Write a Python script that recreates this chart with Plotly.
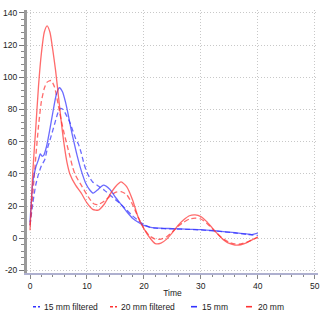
import plotly.graph_objects as go

# 20 mm (raw)
t_20 = [0, 0.5, 1, 1.5, 2, 2.5, 3, 3.5, 4, 4.5, 5, 5.5, 6, 6.5, 7, 8, 9, 10, 11, 12,
        13, 14, 15, 16, 17, 18, 19, 20, 21, 22, 23, 24, 25, 26, 27, 28, 29, 30, 31,
        32, 33, 34, 35, 36, 37, 38, 39, 40]
v_20 = [5, 42, 68, 95, 115, 128, 132, 128, 117, 104, 88, 72, 58, 47, 40, 33, 28, 22,
        18, 17.5, 21, 27, 32, 35, 32, 24, 13, 6, 0.5, -3.3, -3.0, -0.5, 3.5, 8, 11.5,
        14, 14.5, 13.5, 10.5, 6.5, 2.5, -1, -3.2, -4.2, -4, -2.8, -1, 1]

# 20 mm filtered
t_20f = [0, 0.5, 1, 1.5, 2, 2.5, 3, 3.7, 4.3, 5, 5.5, 6, 6.5, 7, 7.5, 8, 9, 10, 11,
         11.5, 12, 13, 14, 15, 16, 17, 18, 19, 20, 21, 22, 23, 24, 25, 26, 27, 28, 29,
         30, 31, 32, 33, 34, 35, 36, 37, 38, 39, 40]
v_20f = [8, 28, 50, 70, 85, 93, 97, 98, 94, 82, 73, 65, 58, 51, 44, 39, 33, 27, 22,
         21, 21, 23, 26, 28.5, 29, 27, 21, 13, 6, 1.5, -0.5, -0.5, 1, 4, 7.5, 10, 12,
         12.5, 12, 9.5, 6, 2.5, -0.5, -2.5, -3.5, -3.5, -2.5, -1, 0.5]

# 15 mm (raw)
t_15 = [0, 0.5, 1, 1.5, 1.8, 2.1, 2.4, 2.9, 3.5, 4.1, 4.6, 5.15, 5.7, 6.2, 6.7, 7.2,
        7.7, 8.3, 9, 9.8, 10.5, 11.1, 12, 12.9, 14, 15, 16, 17, 18, 19, 20, 21, 22,
        25, 28, 30, 33, 36, 38, 39, 40]
v_15 = [10, 35, 44, 49, 52.5, 51, 51.5, 57, 68, 80, 89, 93.5, 91, 85, 77, 68, 60, 51,
        42, 34, 30, 28, 30.5, 33, 30.5, 25.5, 21, 16.5, 12.5, 10, 8, 7, 6.5, 6, 5.6,
        5.4, 4.5, 3.5, 2.7, 2.3, 3.2]

# 15 mm filtered
t_15f = [0, 0.5, 1, 1.5, 2, 2.6, 3, 3.5, 4, 4.4, 4.9, 5.3, 5.8, 6.3, 7, 7.5, 8, 8.5,
         9, 9.5, 10, 10.5, 11, 12, 13, 14, 15, 16, 17, 18, 19, 20, 21, 22, 25, 28, 30,
         33, 36, 38, 40]
v_15f = [8, 22, 33, 40, 45, 49, 55, 61, 67, 72, 78, 80.7, 80, 77, 72, 67, 62, 58.5,
         53, 46, 41, 37.5, 35, 32.5, 30, 27, 24, 21, 17.5, 14, 11, 8.5, 7, 6.3, 5.8,
         5.5, 5.2, 4.4, 3.3, 2.5, 1.8]

x_ticks = [0, 10, 20, 30, 40, 50]
y_ticks = [-20, 0, 20, 40, 60, 80, 100, 120, 140]

BLUE = "rgba(50,50,255,0.72)"
RED = "rgba(255,50,50,0.72)"
FONT = "Liberation Sans, Arial, sans-serif"

series = [
    ("15 mm filtered", t_15f, v_15f, BLUE, "5px,3px"),
    ("20 mm filtered", t_20f, v_20f, RED, "5px,3px"),
    ("15 mm", t_15, v_15, BLUE, "solid"),
    ("20 mm", t_20, v_20, RED, "solid"),
]

fig = go.Figure()
for name, t, v, col, dash in series:
    fig.add_trace(go.Scatter(
        x=t, y=v, name=name, mode="lines",
        line=dict(color=col, width=1.3, dash=dash, shape="spline", smoothing=0.6),
        showlegend=False,
    ))

W, H = 333, 323
ML, MR, MT, MB = 27, 15, 10, 50
pw = W - ML - MR
ph = H - MT - MB

fig.update_layout(
    width=W, height=H,
    margin=dict(l=ML, r=MR, t=MT, b=MB, pad=0),
    paper_bgcolor="white", plot_bgcolor="white",
    font=dict(family=FONT, size=8.5, color="#222"),
)

GRID = dict(showgrid=True, gridcolor="#c8c8c8", griddash="1px,2px", gridwidth=1)

fig.update_xaxes(
    range=[-0.53, 50.58], tickvals=x_ticks, ticktext=[str(v) for v in x_ticks],
    automargin=False, zeroline=False, showline=True, linecolor="#aeb0cf", linewidth=2,
    ticks="outside", ticklen=4, tickcolor="#888",
    minor=dict(dtick=2, tick0=0, ticks="outside", ticklen=2, tickcolor="#888", showgrid=False),
    title=dict(text="Time", font=dict(size=8.5, color="#222"), standoff=0),
    **GRID,
)
fig.update_yaxes(
    range=[-21.55, 141.8], tickvals=y_ticks, ticktext=[str(v) for v in y_ticks],
    automargin=False, zeroline=False, showline=True, linecolor="#9a9a9a", linewidth=3,
    ticks="outside", ticklen=5, tickcolor="#777",
    minor=dict(dtick=4, tick0=0, ticks="outside", ticklen=3, tickcolor="#888", showgrid=False),
    **GRID,
)

# Legend row drawn below the axis title
legend_y_px = 306.7
ly = (MT + ph - legend_y_px) / ph
legend_items = [
    ("15 mm filtered", BLUE, "3px,2px", 33, 40, 42),
    ("20 mm filtered", RED, "3px,2px", 110, 117, 119),
    ("15 mm", BLUE, "solid", 191, 197, 200),
    ("20 mm", RED, "solid", 246, 252, 256),
]
for label, col, dash, x0, x1, xt in legend_items:
    fig.add_shape(
        type="line", xref="paper", yref="paper",
        x0=(x0 - ML) / pw, x1=(x1 - ML) / pw, y0=ly, y1=ly,
        line=dict(color=col.replace("0.72", "1"), width=1.6, dash=dash),
    )
    fig.add_annotation(
        xref="paper", yref="paper", x=(xt - ML) / pw, y=ly,
        xanchor="left", yanchor="middle", showarrow=False,
        text=label, font=dict(size=8.5, color="#222"),
    )

fig.write_html("out.html")
